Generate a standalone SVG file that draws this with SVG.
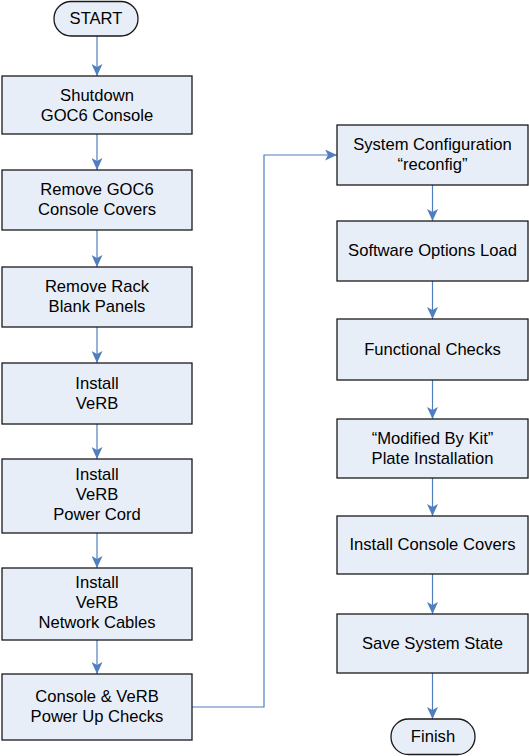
<svg xmlns="http://www.w3.org/2000/svg" width="529" height="756" viewBox="0 0 529 756">
<style>
.box{fill:#E8EEF8;stroke:#1a1a1a;stroke-width:1.3}
.t{font-family:"Liberation Sans",Arial,sans-serif;font-size:16.6px;fill:#000;text-anchor:middle}
.c{fill:none;stroke:#4F7FBE;stroke-width:1.2}
</style>
<defs>
<marker id="ah" markerUnits="userSpaceOnUse" markerWidth="12" markerHeight="11" viewBox="0 0 12 11" refX="12" refY="5.5" orient="auto">
<path d="M0,0 L12,5.5 L0,11 L3,5.5 z" fill="#4F7FBE"/>
</marker>
</defs>
<rect width="529" height="756" fill="#fff"/>
<g id="connectors">
<line class="c" x1="97" y1="36" x2="97" y2="76" marker-end="url(#ah)"/>
<line class="c" x1="97" y1="134" x2="97" y2="170" marker-end="url(#ah)"/>
<line class="c" x1="97" y1="230" x2="97" y2="267" marker-end="url(#ah)"/>
<line class="c" x1="97" y1="327" x2="97" y2="363" marker-end="url(#ah)"/>
<line class="c" x1="97" y1="424" x2="97" y2="459" marker-end="url(#ah)"/>
<line class="c" x1="97" y1="533" x2="97" y2="568" marker-end="url(#ah)"/>
<line class="c" x1="97" y1="640" x2="97" y2="674" marker-end="url(#ah)"/>
<polyline class="c" points="192,707 264,707 264,155 337,155" marker-end="url(#ah)"/>
<line class="c" x1="432.5" y1="185" x2="432.5" y2="221" marker-end="url(#ah)"/>
<line class="c" x1="432.5" y1="281" x2="432.5" y2="319" marker-end="url(#ah)"/>
<line class="c" x1="432.5" y1="380" x2="432.5" y2="419" marker-end="url(#ah)"/>
<line class="c" x1="432.5" y1="478" x2="432.5" y2="516" marker-end="url(#ah)"/>
<line class="c" x1="432.5" y1="574" x2="432.5" y2="614" marker-end="url(#ah)"/>
<line class="c" x1="432.5" y1="673" x2="432.5" y2="719" marker-end="url(#ah)"/>
</g>
<g id="start"><rect class="box" x="54" y="1.5" width="84" height="34.5" rx="17"/><text class="t" x="96" y="24">START</text></g>
<g id="n1"><rect class="box" x="2" y="76" width="190" height="58"/><text class="t" x="97" y="101">Shutdown</text><text class="t" x="97" y="121">GOC6 Console</text></g>
<g id="n2"><rect class="box" x="2" y="170" width="190" height="60"/><text class="t" x="97" y="195">Remove GOC6</text><text class="t" x="97" y="215">Console Covers</text></g>
<g id="n3"><rect class="box" x="2" y="267" width="190" height="60"/><text class="t" x="97" y="292">Remove Rack</text><text class="t" x="97" y="312">Blank Panels</text></g>
<g id="n4"><rect class="box" x="2" y="363" width="190" height="61"/><text class="t" x="97" y="389">Install</text><text class="t" x="97" y="409">VeRB</text></g>
<g id="n5"><rect class="box" x="2" y="459" width="190" height="74"/><text class="t" x="97" y="480">Install</text><text class="t" x="97" y="500">VeRB</text><text class="t" x="97" y="520">Power Cord</text></g>
<g id="n6"><rect class="box" x="2" y="568" width="190" height="72"/><text class="t" x="97" y="588">Install</text><text class="t" x="97" y="608">VeRB</text><text class="t" x="97" y="628">Network Cables</text></g>
<g id="n7"><rect class="box" x="2" y="674" width="190" height="66"/><text class="t" x="97" y="702">Console &amp; VeRB</text><text class="t" x="97" y="722">Power Up Checks</text></g>
<g id="r1"><rect class="box" x="337" y="125" width="191" height="60"/><text class="t" x="432.5" y="150">System Configuration</text><text class="t" x="432.5" y="170">“reconfig”</text></g>
<g id="r2"><rect class="box" x="337" y="221" width="191" height="60"/><text class="t" x="432.5" y="256">Software Options Load</text></g>
<g id="r3"><rect class="box" x="337" y="319" width="191" height="61"/><text class="t" x="432.5" y="355">Functional Checks</text></g>
<g id="r4"><rect class="box" x="337" y="419" width="191" height="59"/><text class="t" x="432.5" y="444">“Modified By Kit”</text><text class="t" x="432.5" y="464">Plate Installation</text></g>
<g id="r5"><rect class="box" x="337" y="516" width="191" height="58"/><text class="t" x="432.5" y="550">Install Console Covers</text></g>
<g id="r6"><rect class="box" x="337" y="614" width="191" height="59"/><text class="t" x="432.5" y="649">Save System State</text></g>
<g id="finish"><rect class="box" x="391" y="719" width="84" height="35.5" rx="17.5"/><text class="t" x="433" y="742">Finish</text></g>
</svg>
